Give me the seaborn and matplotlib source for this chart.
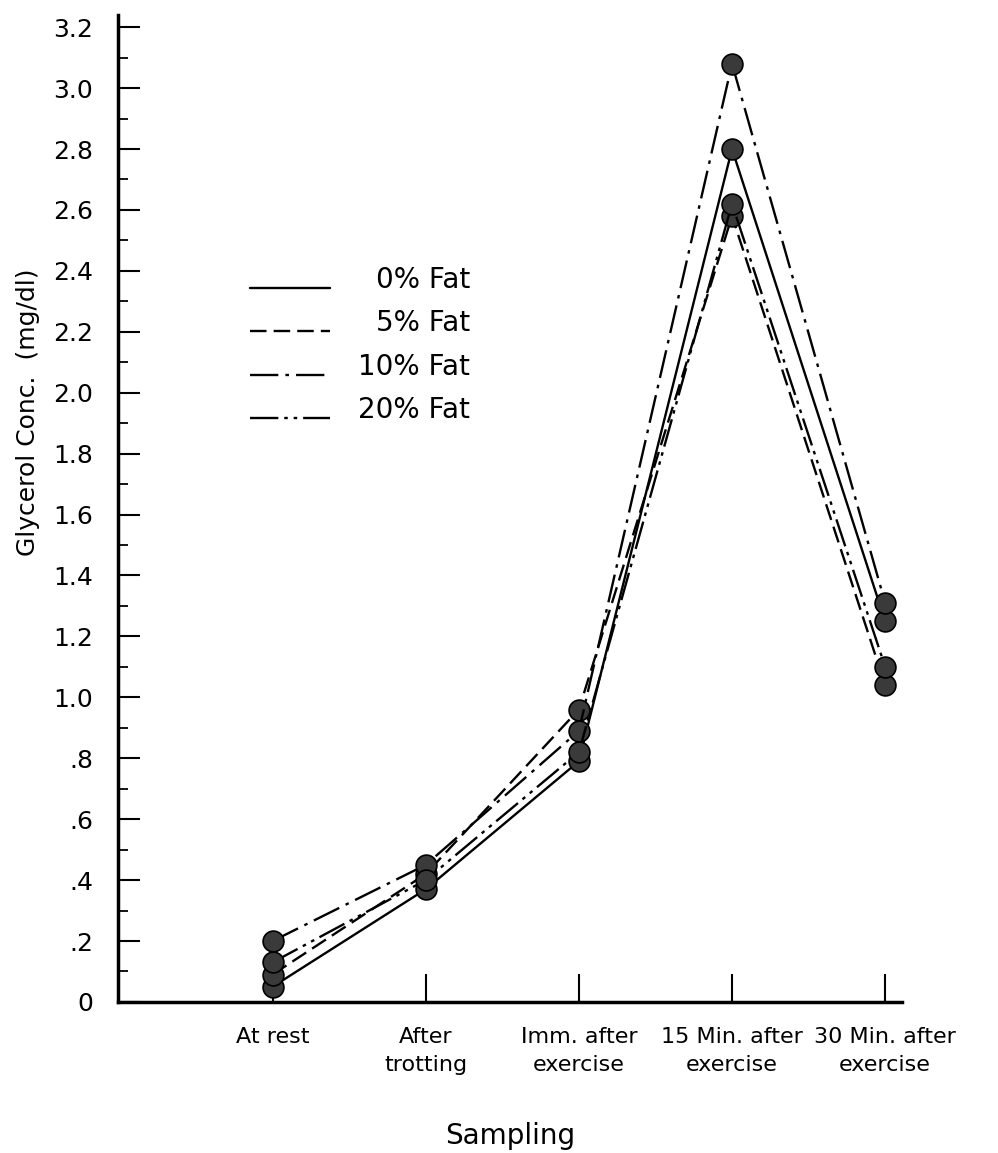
import pandas as pd
import matplotlib
matplotlib.use("Agg")
import matplotlib.pyplot as plt
from matplotlib.ticker import MultipleLocator
import seaborn as sns

# Datos
categories = ["At rest", "After trotting", "Imm. after exercise",
              "15 Min. after exercise", "30 Min. after exercise"]
tick_labels = ["At rest", "After\ntrotting", "Imm. after\nexercise",
               "15 Min. after\nexercise", "30 Min. after\nexercise"]
fat_0 = [0.05, 0.37, 0.79, 2.80, 1.25]
fat_5 = [0.09, 0.42, 0.96, 2.58, 1.04]
fat_10 = [0.20, 0.45, 0.89, 3.08, 1.31]
fat_20 = [0.13, 0.40, 0.82, 2.62, 1.10]
diets = ["0% Fat", "5% Fat", "10% Fat", "20% Fat"]
y_ticks = [0, 0.2, 0.4, 0.6, 0.8, 1.0, 1.2, 1.4, 1.6, 1.8, 2.0, 2.2, 2.4, 2.6, 2.8, 3.0, 3.2]
y_tick_labels = ["0", ".2", ".4", ".6", ".8", "1.0", "1.2", "1.4", "1.6", "1.8",
                 "2.0", "2.2", "2.4", "2.6", "2.8", "3.0", "3.2"]

df = pd.DataFrame({"sampling": categories, "0% Fat": fat_0, "5% Fat": fat_5,
                   "10% Fat": fat_10, "20% Fat": fat_20})
df = df.melt(id_vars="sampling", var_name="diet", value_name="glycerol")
df["pos"] = df["sampling"].map({c: i for i, c in enumerate(categories)})

dash_map = {"0% Fat": "", "5% Fat": (7, 3),
            "10% Fat": (12, 3, 1.5, 3), "20% Fat": (12, 2.5, 1.5, 2.5, 1.5, 2.5)}
palette = {d: "black" for d in diets}

sns.set_theme(style="white")
plt.rcParams["font.family"] = ["DejaVu Sans"]
plt.rcParams["text.color"] = "black"
plt.rcParams["axes.labelcolor"] = "black"

fig = plt.figure(figsize=(9.98, 11.53), dpi=100)
ax = fig.add_axes([0.1182, 0.131, 0.7856, 0.856])

sns.lineplot(data=df, x="pos", y="glycerol", hue="diet", style="diet",
             hue_order=diets, style_order=diets, palette=palette,
             dashes=dash_map, markers={d: "o" for d in diets},
             markersize=15, linewidth=1.7, sort=False, legend=False,
             markeredgecolor="black", markeredgewidth=1.2,
             markerfacecolor="#3a3a3a", ax=ax)

ax.set_xlim(-1.01, 4.11)
ax.set_ylim(0, 3.24)
ax.set_xticks(range(len(categories)))
ax.set_xticklabels(tick_labels, fontsize=16, linespacing=1.5)
ax.set_yticks(y_ticks)
ax.set_yticklabels(y_tick_labels, fontsize=18)
ax.yaxis.set_minor_locator(MultipleLocator(0.1))
ax.tick_params(axis="x", which="major", direction="in", length=20, width=1.5,
               pad=18, colors="black", bottom=True)
ax.tick_params(axis="y", which="major", direction="in", length=16, width=1.5,
               pad=18, colors="black", left=True)
ax.tick_params(axis="y", which="minor", direction="in", length=7, width=1.3,
               colors="black", left=True)

for s in ["top", "right"]:
    ax.spines[s].set_visible(False)
for s in ["left", "bottom"]:
    ax.spines[s].set_linewidth(2.5)
    ax.spines[s].set_color("black")

ax.set_xlabel("Sampling", fontsize=20, color="black")
ax.xaxis.set_label_coords(0.5, -0.122)
ax.set_ylabel("Glycerol Conc.  (mg/dl)", fontsize=18, color="black")
ax.yaxis.set_label_coords(-0.100, 0.598)

# Leyenda dibujada a mano (texto alineado a la derecha como el original)
leg_text_y = [0.7315, 0.688, 0.643, 0.600]
for d, ty in zip(diets, leg_text_y):
    ls = "-" if dash_map[d] == "" else (0, dash_map[d])
    ax.plot([0.168, 0.270], [ty - 0.008, ty - 0.008], transform=ax.transAxes,
            color="black", linewidth=1.7, linestyle=ls)
    ax.text(0.449, ty, d, transform=ax.transAxes, ha="right", va="center",
            fontsize=20, color="black")

fig.savefig("out.png", dpi=100, facecolor="white")
